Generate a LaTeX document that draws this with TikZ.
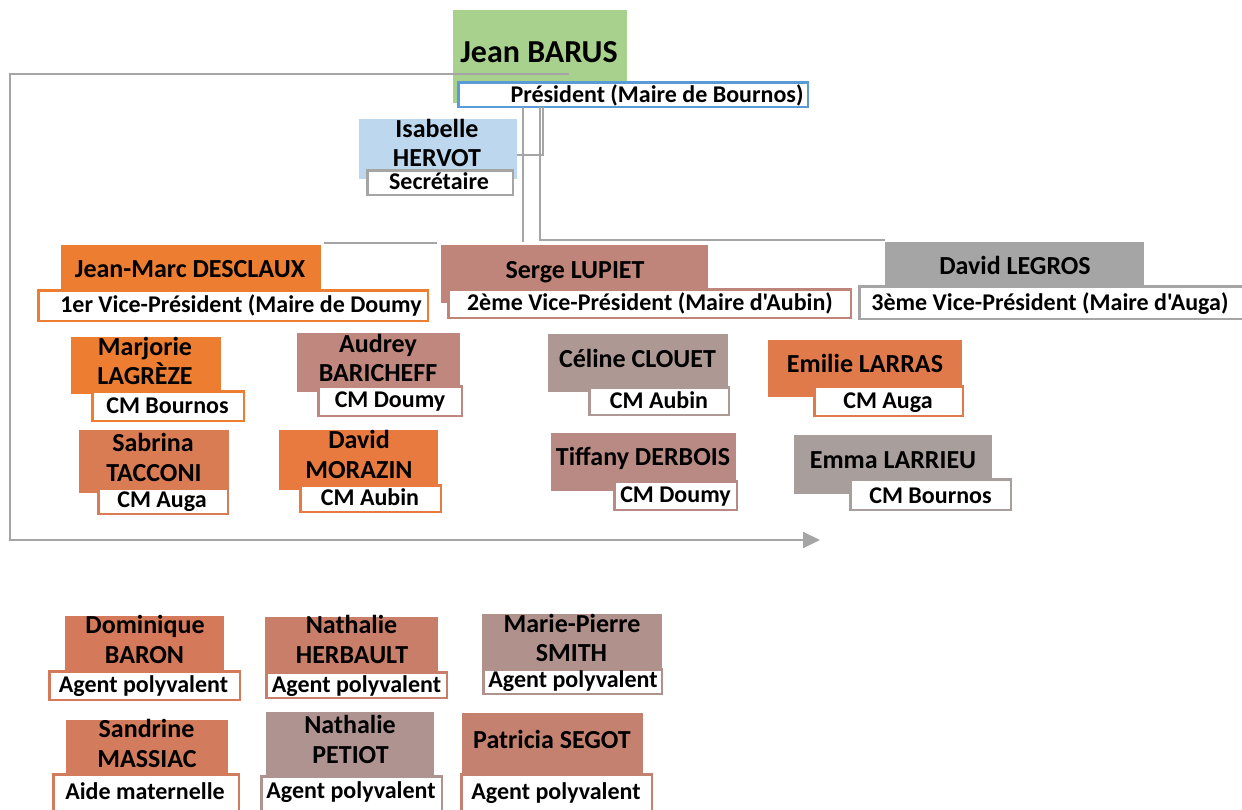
\documentclass[tikz,border=0pt]{standalone}
\usepackage{fontspec}
\setmainfont{Carlito}
\newfontfamily\carl{Carlito}
\usetikzlibrary{arrows.meta}
\definecolor{cgreen}{HTML}{A9D18E}
\definecolor{cblue}{HTML}{5B9BD5}
\definecolor{clblue}{HTML}{BDD7EE}
\definecolor{cgray}{HTML}{A5A5A5}
\definecolor{corange}{HTML}{ED7D31}
\definecolor{cserge}{HTML}{C0857A}
\definecolor{csabrina}{HTML}{D97B53}
\definecolor{caudrey}{HTML}{C0877E}
\definecolor{cmorazin}{HTML}{E87A3F}
\definecolor{cceline}{HTML}{AD9894}
\definecolor{ctiffany}{HTML}{B98A84}
\definecolor{cemilie}{HTML}{E07A4B}
\definecolor{cemma}{HTML}{A89E9B}
\definecolor{cdominique}{HTML}{D47A5A}
\definecolor{cherbault}{HTML}{C97E69}
\definecolor{csmith}{HTML}{B1918C}
\definecolor{cmassiac}{HTML}{D27B5D}
\definecolor{cpetiot}{HTML}{AF9390}
\definecolor{csegot}{HTML}{C48170}
\tikzset{
  namebox/.style={draw=none, inner sep=0pt, outer sep=0pt},
  subbox/.style={fill=white, line width=2.5pt, inner sep=0pt, outer sep=0pt},
  conn/.style={draw=cgray, line width=2pt},
  nm/.style={anchor=base, inner sep=0pt, font=\carl\bfseries\fontsize{26}{30}\selectfont},
  sb/.style={anchor=base, inner sep=0pt, font=\carl\bfseries\fontsize{24}{28}\selectfont},
}
\newcommand\nbox[6]{\node[namebox,fill=#6,minimum width={#4-#2},minimum height={#5-#3}] (#1) at ({(#2+#4)/2},{(#3+#5)/2}) {};}
\newcommand\subbx[6]{\node[subbox,draw=#6,minimum width={#4-#2-2.5},minimum height={#5-#3-2.5}] (#1) at ({(#2+#4)/2},{(#3+#5)/2}) {};}
\begin{document}
\begin{tikzpicture}[x=1pt,y=-1pt]
\useasboundingbox (0,0) rectangle (1242,809);
% president
\nbox{barus}{453}{10}{627}{103}{cgreen}
% frame arrow
\coordinate (f1) at (569,74);
\coordinate (f2) at (10,74);
\coordinate (f3) at (10,540);
\coordinate (f4) at (820,540);
\draw[conn, -{Triangle[length=17pt,width=16pt]}] (f1) -- (f2) -- (f3) -- (f4);
\subbx{president}{457}{81}{809}{108}{cblue}
% secretary
\nbox{isabelle}{359}{119}{517}{179}{clblue}
\subbx{secretaire}{366}{169}{514}{196}{cgray}
% vice presidents
\nbox{desclaux}{61}{245}{321}{295}{corange}
\subbx{vp1}{37}{289}{429}{322}{corange}
\nbox{lupiet}{441}{245}{708}{303}{cserge}
\subbx{vp2}{447}{288}{852}{319}{cserge}
\nbox{legros}{885}{242}{1144}{290}{cgray}
\subbx{vp3}{858}{285}{1252}{320}{cgray}
% connectors
\coordinate (k1) at (523,0);
\coordinate (k2) at (543,0);
\coordinate (k3) at (540,0);
\coordinate (k4) at (437,243);
\coordinate (k5) at (324,243);
\draw[conn] (president.south -| k1) -- (523,242);
\draw[conn] (k4) -- (k5);
\draw[conn] (president.south -| k2) -- (543,155) -- (isabelle.east |- 0,155);
\draw[conn] (president.south -| k3) -- (540,240) -- (legros.west |- 0,240);
% council members
\nbox{marjorie}{71}{337}{221}{394}{corange}
\subbx{cm1}{91}{390}{245}{422}{corange}
\nbox{sabrina}{79}{430}{229}{493}{csabrina}
\subbx{cm2}{97}{487}{229}{515}{csabrina}
\nbox{audrey}{297}{333}{460}{392}{caudrey}
\subbx{cm3}{317}{385}{463}{417}{caudrey}
\nbox{morazin}{279}{430}{438}{490}{cmorazin}
\subbx{cm4}{299}{484}{442}{513}{cmorazin}
\nbox{celine}{548}{334}{728}{392}{cceline}
\subbx{cm5}{588}{386}{730}{416}{cceline}
\nbox{tiffany}{551}{433}{736}{491}{ctiffany}
\subbx{cm6}{613}{480}{738}{511}{ctiffany}
\nbox{emilie}{768}{340}{962}{397}{cemilie}
\subbx{cm7}{813}{385}{964}{417}{cemilie}
\nbox{emma}{794}{435}{992}{494}{cemma}
\subbx{cm8}{849}{478}{1012}{511}{cemma}
% staff
\nbox{dominique}{65}{616}{224}{672}{cdominique}
\subbx{ag1}{48}{670}{241}{701}{cdominique}
\nbox{herbault}{265}{617}{438}{672}{cherbault}
\subbx{ag2}{265}{671}{448}{699}{cherbault}
\nbox{smith}{482}{614}{662}{670}{csmith}
\subbx{ag3}{482}{668}{663}{695}{csmith}
\nbox{massiac}{66}{720}{228}{775}{cmassiac}
\subbx{ag4}{52}{773}{240}{815}{cmassiac}
\nbox{petiot}{266}{712}{434}{777}{cpetiot}
\subbx{ag5}{260}{775}{443}{815}{cpetiot}
\nbox{segot}{462}{713}{643}{775}{csegot}
\subbx{ag6}{460}{773}{653}{815}{csegot}
% texts
\node[nm,font=\carl\bfseries\fontsize{32}{36}\selectfont] (t-barus) at (539,62) {Jean BARUS};
\node[sb] (t-pres) at (657,102) {Président (Maire de Bournos)};
\node[nm] (t-isa1) at (437,137) {Isabelle};
\node[nm] (t-isa2) at (437,166) {HERVOT};
\node[sb] (t-sec) at (439,189) {Secrétaire};
\node[nm] (t-desc) at (190,277) {Jean-Marc DESCLAUX};
\node[sb] (t-vp1) at (241,312) {1er Vice-Président (Maire de Doumy};
\node[nm] (t-lup) at (575,278) {Serge LUPIET};
\node[sb] (t-vp2) at (650,310) {2ème Vice-Président (Maire d'Aubin)};
\node[nm] (t-leg) at (1015,274) {David LEGROS};
\node[sb] (t-vp3) at (1050,310) {3ème Vice-Président (Maire d'Auga)};
\node[nm] (t-mar1) at (145,355) {Marjorie};
\node[nm] (t-mar2) at (145,384) {LAGRÈZE};
\node[sb] (t-cm1) at (167.5,413) {CM Bournos};
\node[nm] (t-sab1) at (153,451) {Sabrina};
\node[nm] (t-sab2) at (154,481) {TACCONI};
\node[sb] (t-cm2) at (162,507) {CM Auga};
\node[nm] (t-aud1) at (378,352) {Audrey};
\node[nm] (t-aud2) at (378,381) {BARICHEFF};
\node[sb] (t-cm3) at (390,407) {CM Doumy};
\node[nm] (t-mor1) at (359,448) {David};
\node[nm] (t-mor2) at (359,478) {MORAZIN};
\node[sb] (t-cm4) at (370,505) {CM Aubin};
\node[nm] (t-cel) at (637.5,367) {Céline CLOUET};
\node[sb] (t-cm5) at (659,408) {CM Aubin};
\node[nm] (t-tif) at (643,465) {Tiffany DERBOIS};
\node[sb] (t-cm6) at (675.5,502) {CM Doumy};
\node[nm] (t-emi) at (865,372) {Emilie LARRAS};
\node[sb] (t-cm7) at (888,408) {CM Auga};
\node[nm] (t-emm) at (893,468) {Emma LARRIEU};
\node[sb] (t-cm8) at (930.5,503) {CM Bournos};
\node[nm] (t-dom1) at (145,633) {Dominique};
\node[nm] (t-dom2) at (144.5,663) {BARON};
\node[sb] (t-ag1) at (143.5,692) {Agent polyvalent};
\node[nm] (t-her1) at (351.5,633) {Nathalie};
\node[nm] (t-her2) at (352,663) {HERBAULT};
\node[sb] (t-ag2) at (356.5,692) {Agent polyvalent};
\node[nm] (t-smi1) at (572,632) {Marie-Pierre};
\node[nm] (t-smi2) at (571.5,661) {SMITH};
\node[sb] (t-ag3) at (573,687) {Agent polyvalent};
\node[nm] (t-mas1) at (146.5,737) {Sandrine};
\node[nm] (t-mas2) at (147,767) {MASSIAC};
\node[sb] (t-ag4) at (145,799) {Aide maternelle};
\node[nm] (t-pet1) at (350,733) {Nathalie};
\node[nm] (t-pet2) at (350.5,763) {PETIOT};
\node[sb] (t-ag5) at (351,798) {Agent polyvalent};
\node[nm] (t-seg) at (552,748) {Patricia SEGOT};
\node[sb] (t-ag6) at (556,799) {Agent polyvalent};
\end{tikzpicture}
\end{document}
